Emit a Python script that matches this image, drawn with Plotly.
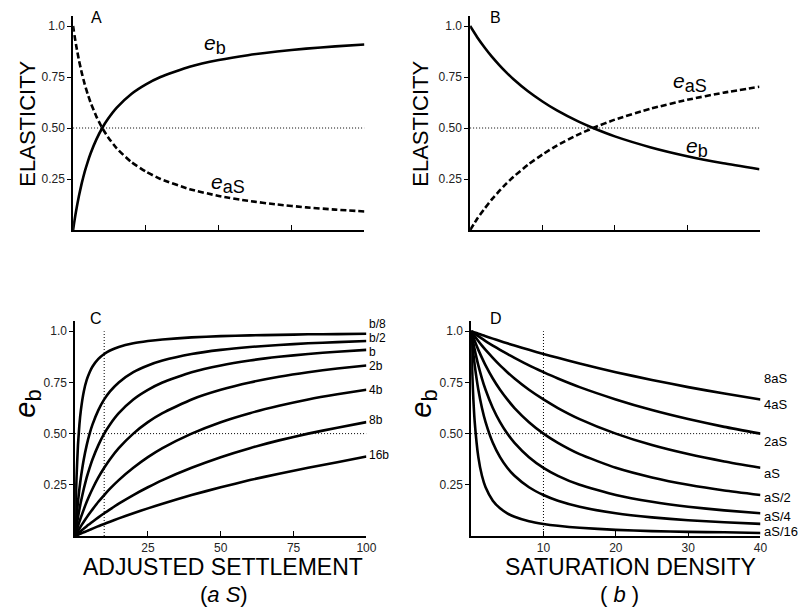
import plotly.graph_objects as go

W, H = 810, 608

# ---------------- data ----------------
# Panel A: elasticities vs adjusted settlement (aS), b fixed
A_x = [0, 0.25, 0.5, 1, 1.5, 2, 3, 4, 5, 6, 8, 10, 12, 15, 20, 25, 30, 40, 50, 60, 70, 80, 90, 100]
A_eb = [0, 0.024, 0.048, 0.091, 0.130, 0.167, 0.231, 0.286, 0.333, 0.375, 0.444, 0.5, 0.545, 0.6,
        0.667, 0.714, 0.75, 0.8, 0.833, 0.857, 0.875, 0.889, 0.9, 0.909]
A_eaS = [1, 0.976, 0.952, 0.909, 0.870, 0.833, 0.769, 0.714, 0.667, 0.625, 0.556, 0.5, 0.455, 0.4,
         0.333, 0.286, 0.25, 0.2, 0.167, 0.143, 0.125, 0.111, 0.1, 0.091]

# Panel B: elasticities vs saturation density (b), aS fixed
B_x = [0, 1, 2, 3, 4, 5, 6, 8, 10, 12, 15, 17, 20, 25, 30, 35, 40]
B_eb = [1, 0.944, 0.895, 0.85, 0.810, 0.773, 0.739, 0.68, 0.630, 0.586, 0.531, 0.5, 0.459, 0.405,
        0.362, 0.327, 0.298]
B_eaS = [0, 0.056, 0.105, 0.15, 0.19, 0.227, 0.261, 0.32, 0.37, 0.414, 0.469, 0.5, 0.541, 0.595,
         0.638, 0.673, 0.702]

# Panel C: e_b vs aS for several b
C_x = A_x
C_names = ["b/8", "b/2", "b", "2b", "4b", "8b", "16b"]
C_b8 = [0, 0.167, 0.286, 0.444, 0.545, 0.615, 0.706, 0.762, 0.8, 0.828, 0.865, 0.889, 0.906, 0.923,
        0.941, 0.952, 0.96, 0.970, 0.976, 0.980, 0.982, 0.985, 0.986, 0.988]
C_b2 = [0, 0.048, 0.091, 0.167, 0.231, 0.286, 0.375, 0.444, 0.5, 0.545, 0.615, 0.667, 0.706, 0.75,
        0.8, 0.833, 0.857, 0.889, 0.909, 0.923, 0.933, 0.941, 0.947, 0.952]
C_b1 = [0, 0.024, 0.048, 0.091, 0.130, 0.167, 0.231, 0.286, 0.333, 0.375, 0.444, 0.5, 0.545, 0.6,
        0.667, 0.714, 0.75, 0.8, 0.833, 0.857, 0.875, 0.889, 0.9, 0.909]
C_2b = [0, 0.012, 0.024, 0.048, 0.070, 0.091, 0.130, 0.167, 0.2, 0.231, 0.286, 0.333, 0.375, 0.429,
        0.5, 0.556, 0.6, 0.667, 0.714, 0.75, 0.778, 0.8, 0.818, 0.833]
C_4b = [0, 0.006, 0.012, 0.024, 0.036, 0.048, 0.070, 0.091, 0.111, 0.130, 0.167, 0.2, 0.231, 0.273,
        0.333, 0.385, 0.429, 0.5, 0.556, 0.6, 0.636, 0.667, 0.692, 0.714]
C_8b = [0, 0.003, 0.006, 0.012, 0.018, 0.024, 0.036, 0.048, 0.059, 0.070, 0.091, 0.111, 0.130, 0.158,
        0.2, 0.238, 0.273, 0.333, 0.385, 0.429, 0.467, 0.5, 0.529, 0.556]
C_16b = [0, 0.002, 0.003, 0.006, 0.009, 0.012, 0.018, 0.024, 0.030, 0.036, 0.048, 0.059, 0.070, 0.086,
         0.111, 0.135, 0.158, 0.2, 0.238, 0.273, 0.304, 0.333, 0.36, 0.388]
C_series = [C_b8, C_b2, C_b1, C_2b, C_4b, C_8b, C_16b]

# Panel D: e_b vs b for several aS
D_x = [0, 0.1, 0.25, 0.5, 1, 1.5, 2, 3, 4, 5, 6, 8, 10, 12, 15, 20, 25, 30, 35, 40]
D_names = ["8aS", "4aS", "2aS", "aS", "aS/2", "aS/4", "aS/16"]
D_8 = [1, 0.999, 0.997, 0.994, 0.988, 0.982, 0.976, 0.964, 0.952, 0.941, 0.930, 0.909, 0.889, 0.870,
       0.842, 0.8, 0.762, 0.727, 0.696, 0.667]
D_4 = [1, 0.998, 0.994, 0.988, 0.976, 0.964, 0.952, 0.930, 0.909, 0.889, 0.870, 0.833, 0.8, 0.769,
       0.727, 0.667, 0.615, 0.571, 0.533, 0.5]
D_2 = [1, 0.995, 0.988, 0.976, 0.952, 0.930, 0.909, 0.870, 0.833, 0.8, 0.769, 0.714, 0.667, 0.625,
       0.571, 0.5, 0.444, 0.4, 0.364, 0.333]
D_1 = [1, 0.990, 0.976, 0.952, 0.909, 0.870, 0.833, 0.769, 0.714, 0.667, 0.625, 0.556, 0.5, 0.455,
       0.4, 0.333, 0.286, 0.25, 0.222, 0.2]
D_h = [1, 0.980, 0.952, 0.909, 0.833, 0.769, 0.714, 0.625, 0.556, 0.5, 0.455, 0.385, 0.333, 0.294,
       0.25, 0.2, 0.167, 0.143, 0.125, 0.111]
D_q = [1, 0.962, 0.909, 0.833, 0.714, 0.625, 0.556, 0.455, 0.385, 0.333, 0.294, 0.238, 0.2, 0.172,
       0.143, 0.111, 0.091, 0.077, 0.067, 0.059]
D_16 = [1, 0.862, 0.714, 0.556, 0.385, 0.294, 0.238, 0.172, 0.135, 0.111, 0.094, 0.072, 0.059, 0.050,
        0.040, 0.030, 0.024, 0.020, 0.018, 0.015]
D_series = [D_8, D_4, D_2, D_1, D_h, D_q, D_16]

Y_TICKS = [0.25, 0.5, 0.75, 1.0]
Y_TICK_TEXT = ["0.25", "0.50", "0.75", "1.0"]
X_TICKS_AS = [25, 50, 75, 100]
X_TICKS_B = [10, 20, 30, 40]
REF_E = 0.5
REF_X = 10

# ---------------- styling ----------------
FONT = "Liberation Sans, Arial, Helvetica, sans-serif"
LW = 2.6


def px(x):
    return x / W


def py(y):
    return 1 - y / H


fig = go.Figure()

spline = dict(shape="spline", smoothing=0.5)

# A
fig.add_trace(go.Scatter(x=A_x, y=A_eb, mode="lines", xaxis="x", yaxis="y",
                         line=dict(color="black", width=LW, **spline)))
fig.add_trace(go.Scatter(x=A_x, y=A_eaS, mode="lines", xaxis="x", yaxis="y",
                         line=dict(color="black", width=LW, dash="6px,3px", **spline)))
# B
fig.add_trace(go.Scatter(x=B_x, y=B_eb, mode="lines", xaxis="x2", yaxis="y2",
                         line=dict(color="black", width=LW, **spline)))
fig.add_trace(go.Scatter(x=B_x, y=B_eaS, mode="lines", xaxis="x2", yaxis="y2",
                         line=dict(color="black", width=LW, dash="6px,3px", **spline)))
# C
for ys in C_series:
    fig.add_trace(go.Scatter(x=C_x, y=ys, mode="lines", xaxis="x3", yaxis="y3",
                             line=dict(color="black", width=LW, **spline)))
# D
for ys in D_series:
    fig.add_trace(go.Scatter(x=D_x, y=ys, mode="lines", xaxis="x4", yaxis="y4",
                             line=dict(color="black", width=LW, **spline)))

# dotted reference lines
dot = dict(color="black", width=1, dash="1px,2px")
shapes = [
    dict(type="line", xref="x", yref="y", x0=0, x1=100, y0=REF_E, y1=REF_E, line=dot),
    dict(type="line", xref="x2", yref="y2", x0=0, x1=40, y0=REF_E, y1=REF_E, line=dot),
    dict(type="line", xref="x3", yref="y3", x0=0, x1=100, y0=REF_E, y1=REF_E, line=dot),
    dict(type="line", xref="x3", yref="y3", x0=REF_X, x1=REF_X, y0=0, y1=1.0, line=dot),
    dict(type="line", xref="x4", yref="y4", x0=0, x1=40, y0=REF_E, y1=REF_E, line=dot),
    dict(type="line", xref="x4", yref="y4", x0=REF_X, x1=REF_X, y0=0, y1=1.0, line=dot),
]

# axes
tickfont = dict(family=FONT, size=12, color="#222")
common_x = dict(showline=True, linecolor="black", linewidth=1.5, showgrid=False, zeroline=False,
                ticks="inside", ticklen=5, tickwidth=1.2, tickcolor="black", tickfont=tickfont)
common_y = dict(showline=True, linecolor="black", linewidth=1.5, showgrid=False, zeroline=False,
                ticks="outside", ticklen=4, tickwidth=1.2, tickcolor="black", tickfont=tickfont,
                range=[0, 1.05], tickvals=Y_TICKS, ticktext=Y_TICK_TEXT)

top_y = [py(230), py(15.8)]
bot_y = [py(536), py(321)]

layout = dict(
    width=W, height=H, margin=dict(l=0, r=0, t=0, b=0),
    paper_bgcolor="white", plot_bgcolor="white", showlegend=False,
    font=dict(family=FONT, color="black", size=12),
    xaxis=dict(common_x, domain=[px(74), px(369)], range=[0, 100], tickvals=X_TICKS_AS,
               showticklabels=False, anchor="y"),
    yaxis=dict(common_y, domain=top_y, anchor="x"),
    xaxis2=dict(common_x, domain=[px(476), px(769)], range=[0, 40], tickvals=X_TICKS_B,
                showticklabels=False, anchor="y2"),
    yaxis2=dict(common_y, domain=top_y, anchor="x2"),
    xaxis3=dict(common_x, domain=[px(76), px(371)], range=[0, 100], tickvals=X_TICKS_AS,
                showticklabels=True, anchor="y3"),
    yaxis3=dict(common_y, domain=bot_y, anchor="x3"),
    xaxis4=dict(common_x, domain=[px(477), px(770)], range=[0, 40], tickvals=X_TICKS_B,
                showticklabels=True, anchor="y4"),
    yaxis4=dict(common_y, domain=bot_y, anchor="x4"),
    shapes=shapes,
)
fig.update_layout(**layout)

ann = []


def add_text(text, x, y, size, angle=0, xanchor="center"):
    ann.append(dict(text=text, x=px(x), y=py(y), xref="paper", yref="paper", showarrow=False,
                    xanchor=xanchor, yanchor="middle", textangle=angle, borderpad=0,
                    font=dict(family=FONT, size=size, color="black")))


# panel letters
add_text("A", 97.5, 17.5, 16)
add_text("B", 502, 18, 16)
add_text("C", 97.5, 318.5, 16)
add_text("D", 502.5, 318.5, 16)

# y titles
add_text("ELASTICITY", 27, 124, 22, angle=-90)
add_text("ELASTICITY", 425, 124, 22, angle=-90)
EB_TITLE = '<i>e</i><sub><span style="font-size:22px">b</span></sub>'
add_text(EB_TITLE, 27, 404, 29, angle=-90)
add_text(EB_TITLE, 428, 404, 29, angle=-90)

# x titles
add_text("ADJUSTED SETTLEMENT", 226, 567, 23)
add_text("(<i>a S</i>)", 227, 594, 22)
add_text("SATURATION DENSITY", 638, 567, 23)
add_text("(<i> b </i>)", 627, 594, 22)

# curve labels A / B
EB_LBL = '<i>e</i><sub><span style="font-size:18px">b</span></sub>'
EAS_LBL = '<i>e</i><sub><span style="font-size:18px">aS</span></sub>'
add_text(EB_LBL, 218, 44, 21)
add_text(EAS_LBL, 231, 184, 21)
add_text(EAS_LBL, 699, 82, 21)
add_text(EB_LBL, 706, 147, 21)

# C labels
C_label_y = [324, 338, 352, 366, 390, 420, 455]
for name, yy in zip(C_names, C_label_y):
    add_text(name, 373, yy, 12, xanchor="left")
# D labels
D_label_y = [378, 405, 441, 473, 497, 516, 531]
for name, yy in zip(D_names, D_label_y):
    add_text(name, 773, yy, 13, xanchor="left")

fig.update_layout(annotations=ann)

fig.write_html("out.html")
